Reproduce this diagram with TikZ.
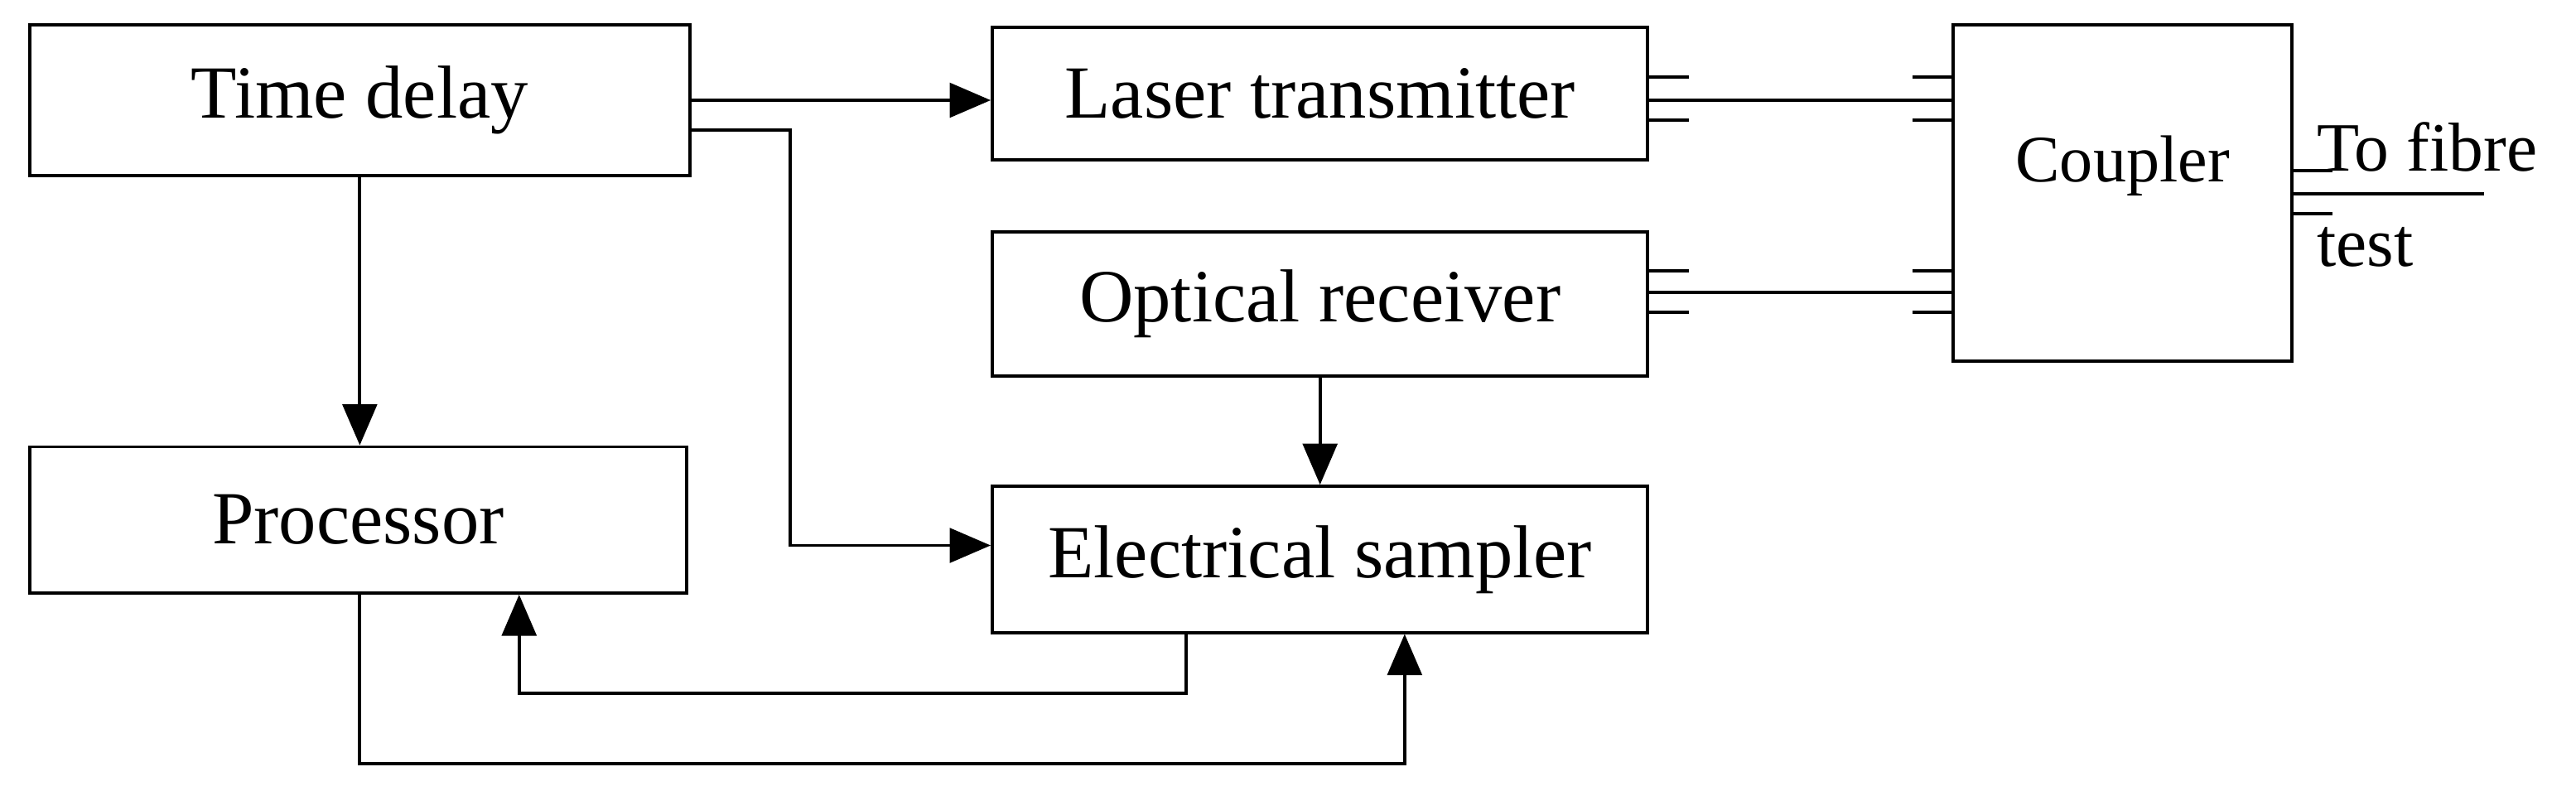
\documentclass[tikz,border=0pt]{standalone}
\usepackage{fontspec}
\setmainfont{Liberation Serif}
\usetikzlibrary{arrows.meta}
\begin{document}
\begin{tikzpicture}[x=0.02cm,y=-0.02cm,
    blk/.style={draw, line width=1.1pt, inner sep=0pt, font=\fontsize{26}{31}\selectfont},
    con/.style={line width=1.1pt},
    arr/.style={con, -{Triangle[length=0.5cm,width=0.42cm]}},
    stub/.style={line width=1.1pt},
    lbl/.style={inner sep=0pt, font=\fontsize{24}{29}\selectfont}]
  \useasboundingbox (0,0) rectangle (1568,481);
  % blocks
  \node[blk, minimum width=402*0.02cm, minimum height=92*0.02cm] (td) at (219,61) {Time delay};
  \node[blk, minimum width=399*0.02cm, minimum height=81*0.02cm] (lt) at (803.5,57) {Laser transmitter};
  \node[blk, minimum width=399*0.02cm, minimum height=88*0.02cm] (or) at (803.5,185) {Optical receiver};
  \node[blk, minimum width=399*0.02cm, minimum height=89*0.02cm] (es) at (803.5,340.5) {Electrical sampler};
  \node[blk, minimum width=400*0.02cm, minimum height=89*0.02cm] (pr) at (218,316.5) {Processor};
  \node[blk, minimum width=206*0.02cm, minimum height=205*0.02cm, font=\fontsize{23}{28}\selectfont] (cp) at (1292,117.5) {};
  \node[lbl, font=\fontsize{23}{28}\selectfont] (cpt) at (1292,101) {Coupler};
  % connectors
  \draw[arr] (td.east |- 0,61) -- (lt.west |- 0,61);
  \draw[arr] (td.east |- 0,79) -| (481,332) -- (es.west |- 0,332);
  \draw[arr] (td.south) -- (td.south |- pr.north);
  \draw[arr] (or.south) -- (es.north);
  \draw[arr] (es.south -| 722,0) |- (316,422) -- (pr.south -| 316,0);
  \draw[arr] (td.south |- pr.south) |- (855,465) -- (es.south -| 855,0);
  % optical links
  \draw[con] (lt.east |- 0,61) -- (cp.west |- 0,61);
  \draw[con] (or.east |- 0,178) -- (cp.west |- 0,178);
  \foreach \y in {47,73} {
    \draw[stub] (lt.east |- 0,\y) -- ++(24,0);
    \draw[stub] (cp.west |- 0,\y) -- ++(-24,0);
  }
  \foreach \y in {165,190} {
    \draw[stub] (or.east |- 0,\y) -- ++(24,0);
    \draw[stub] (cp.west |- 0,\y) -- ++(-24,0);
  }
  \draw[stub] (cp.east |- 0,104) -- ++(24,0);
  \draw[con] (cp.east |- 0,118) -- (1512,118);
  \draw[stub] (cp.east |- 0,130) -- ++(24,0);
  \node[lbl, anchor=base west] (tf) at (1410,104) {To fibre};
  \node[lbl, anchor=base west] (ts) at (1410,162) {test};
\end{tikzpicture}
\end{document}
